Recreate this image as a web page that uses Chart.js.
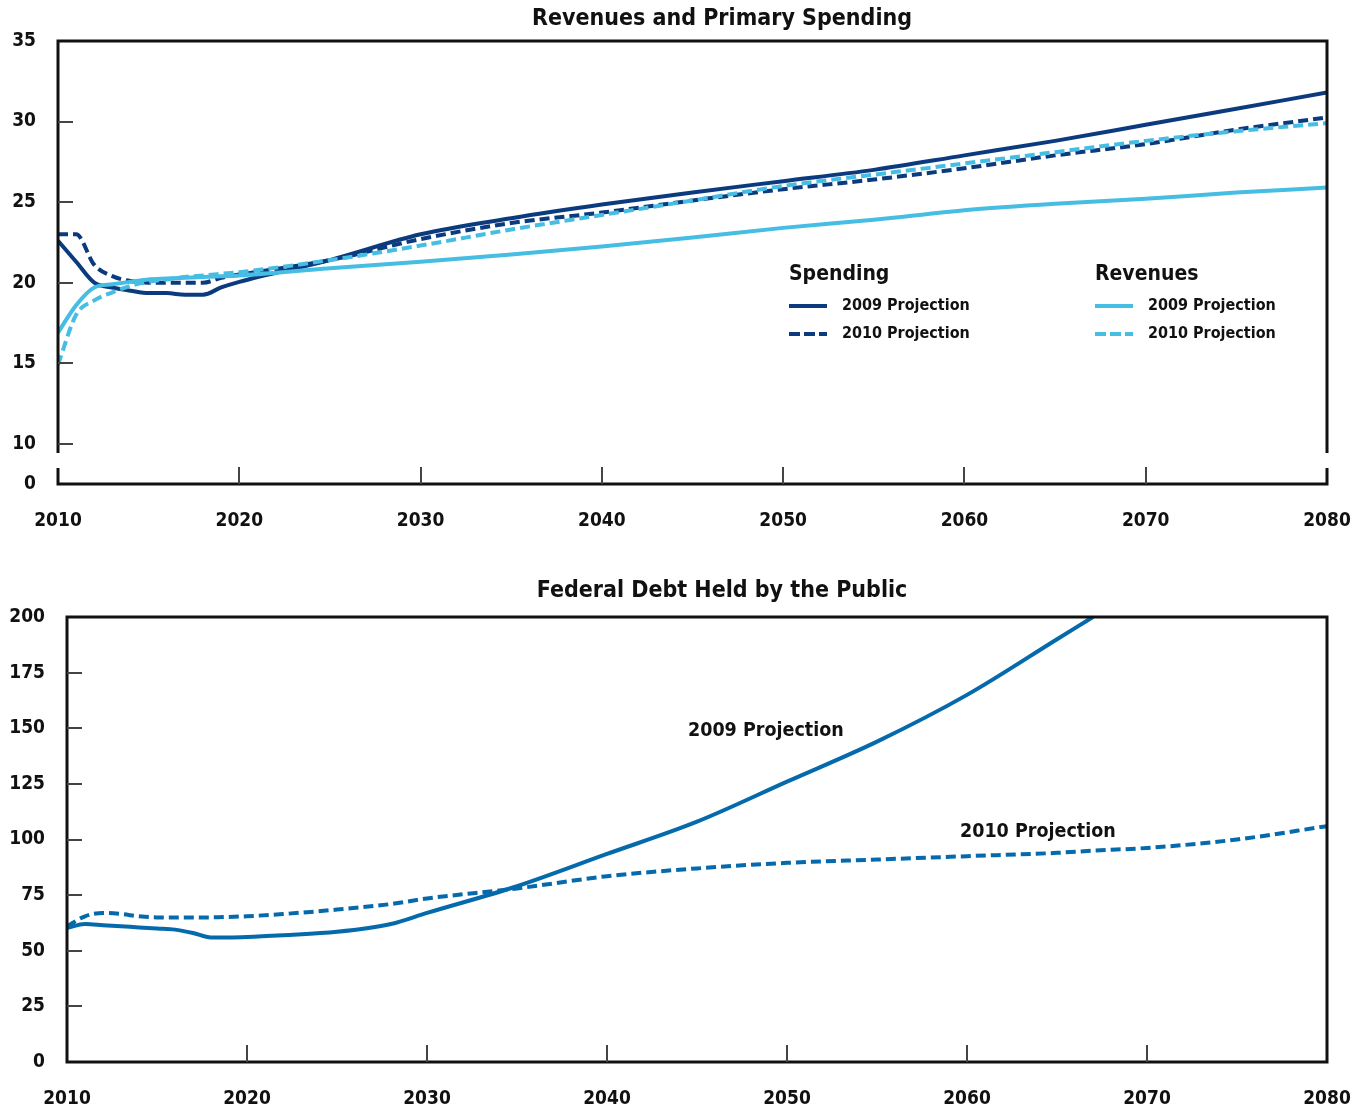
<!DOCTYPE html>
<html>
<head>
<meta charset="utf-8">
<script src="https://cdn.jsdelivr.net/npm/chart.js@4/dist/chart.umd.min.js"></script>
<style>
  body { margin: 0; background: #fff; }
  .box { position: relative; width: 1366px; }
</style>
</head>
<body>
<div class="box" style="height:550px"><canvas id="topChart" width="1366" height="550"></canvas></div>
<div class="box" style="height:560px"><canvas id="debtChart" width="1366" height="560"></canvas></div>
<script>
// Revenues and primary spending, percent of GDP
const years = [2010, 2011, 2012, 2013, 2014, 2015, 2016, 2017, 2018, 2019, 2020,
               2025, 2030, 2035, 2040, 2045, 2050, 2055, 2060, 2065, 2070, 2075, 2080];
const spending2009 = [22.6, 21.3, 20.0, 19.7, 19.5, 19.35, 19.35, 19.25, 19.25, 19.7, 20.05,
                      21.4, 23.0, 24.0, 24.85, 25.6, 26.3, 27.0, 27.9, 28.8, 29.8, 30.8, 31.8];
const spending2010 = [23.0, 23.0, 21.1, 20.4, 20.1, 20.0, 20.0, 20.0, 20.0, 20.3, 20.5,
                      21.4, 22.7, 23.7, 24.35, 25.1, 25.8, 26.4, 27.1, 27.9, 28.6, 29.5, 30.25];
const revenues2009 = [16.9, 18.6, 19.7, 19.9, 20.05, 20.2, 20.25, 20.3, 20.35, 20.4, 20.45,
                      20.9, 21.3, 21.75, 22.25, 22.8, 23.4, 23.9, 24.5, 24.9, 25.2, 25.6, 25.9];
const revenues2010 = [14.9, 18.0, 18.9, 19.4, 19.8, 20.05, 20.2, 20.35, 20.45, 20.55, 20.65,
                      21.4, 22.3, 23.3, 24.2, 25.1, 26.0, 26.7, 27.4, 28.1, 28.8, 29.4, 29.9];
const topYTicks = [7.5, 10, 15, 20, 25, 30, 35]; // 7.5 is the broken-axis spot labelled 0

// Federal debt held by the public, percent of GDP
const debtYears = [2010, 2011, 2012, 2013, 2014, 2015, 2016, 2017, 2018, 2019, 2020, 2022, 2025,
                   2028, 2030, 2035, 2040, 2045, 2050, 2055, 2060, 2065, 2067, 2070, 2075, 2080];
const debt2009 = [60.2, 62, 61.5, 61, 60.5, 60, 59.5, 58, 56, 56, 56.2, 57, 58.5,
                  62, 67, 79, 93.5, 108, 126, 144, 165, 190, 200, null, null, null];
const debt2010 = [61, 65.5, 67, 66.5, 65.5, 65, 65, 65, 65, 65.2, 65.5, 66.5, 68.5,
                  71, 73.5, 78, 83.5, 87, 89.5, 91, 92.5, 94, 95, 96.2, 100, 106];
const debtYTicks = [0, 25, 50, 75, 100, 125, 150, 175, 200];
const xTicks = [2010, 2020, 2030, 2040, 2050, 2060, 2070, 2080];

const darkBlue = '#0b3b7e';
const lightBlue = '#46bde3';
const debtBlue = '#046aab';
const FONT = "'DejaVu Sans Condensed', 'Liberation Sans Narrow', sans-serif";

Chart.defaults.font.family = FONT;
Chart.defaults.font.weight = 'bold';
Chart.defaults.font.size = 19;
Chart.defaults.color = '#111';

function pts(xs, ys) {
    return xs.map((x, i) => ({ x: x, y: ys[i] }));
}

function lineSet(label, xs, ys, color, dashed) {
    return {
        label: label,
        data: pts(xs, ys),
        borderColor: color,
        backgroundColor: color,
        borderWidth: 4,
        borderDash: dashed ? [10, 5] : [],
        pointRadius: 0,
        cubicInterpolationMode: 'monotone',
        fill: false
    };
}

// draw the frame with inward tick marks (and the axis break on the top chart)
function framePlugin(opts) {
    return {
        id: 'frame',
        afterDraw(chart) {
            const ctx = chart.ctx;
            const a = chart.chartArea;
            const xs = chart.scales.x, ys = chart.scales.y;
            ctx.save();
            ctx.strokeStyle = '#111';
            ctx.lineWidth = 3;
            ctx.lineCap = 'butt';
            ctx.beginPath();
            ctx.moveTo(a.left, a.bottom); ctx.lineTo(a.right, a.bottom);
            ctx.moveTo(a.left - 1.5, a.top); ctx.lineTo(a.right + 1.5, a.top);
            if (opts.breakAt) {
                const b1 = opts.breakAt[0], b2 = opts.breakAt[1];
                [a.left, a.right].forEach(x => {
                    ctx.moveTo(x, a.top); ctx.lineTo(x, b1);
                    ctx.moveTo(x, b2); ctx.lineTo(x, a.bottom + 1.5);
                });
            } else {
                ctx.moveTo(a.left, a.top); ctx.lineTo(a.left, a.bottom + 1.5);
                ctx.moveTo(a.right, a.top); ctx.lineTo(a.right, a.bottom + 1.5);
            }
            ctx.stroke();

            ctx.strokeStyle = '#444';
            ctx.lineWidth = 2;
            ctx.beginPath();
            opts.yTicks.forEach(v => {
                const y = Math.round(ys.getPixelForValue(v));
                ctx.moveTo(a.left, y); ctx.lineTo(a.left + 15, y);
            });
            xTicks.slice(1, -1).forEach(v => {
                const x = Math.round(xs.getPixelForValue(v));
                ctx.moveTo(x, a.bottom); ctx.lineTo(x, a.bottom - 17);
            });
            ctx.stroke();

            // title
            ctx.fillStyle = '#111';
            ctx.font = 'bold 23px ' + FONT;
            ctx.textAlign = 'center';
            ctx.textBaseline = 'middle';
            ctx.fillText(opts.title, 722, opts.titleY);

            if (opts.extra) opts.extra(ctx);
            ctx.restore();
        }
    };
}

function drawTopLegend(ctx) {
    const groups = [
        { x: 789, head: 'Spending', color: darkBlue },
        { x: 1095, head: 'Revenues', color: lightBlue }
    ];
    groups.forEach(g => {
        ctx.textAlign = 'left';
        ctx.textBaseline = 'middle';
        ctx.fillStyle = '#111';
        ctx.font = 'bold 21px ' + FONT;
        ctx.fillText(g.head, g.x, 275);
        ctx.font = 'bold 16px ' + FONT;
        [['2009 Projection', []], ['2010 Projection', [11, 4]]].forEach((it, i) => {
            const y = 306 + i * 28;
            ctx.strokeStyle = g.color;
            ctx.lineWidth = 4;
            ctx.lineCap = 'butt';
            ctx.setLineDash(it[1]);
            ctx.beginPath();
            ctx.moveTo(g.x, y); ctx.lineTo(g.x + 38, y);
            ctx.stroke();
            ctx.setLineDash([]);
            ctx.fillText(it[0], g.x + 53, y);
        });
    });
}

function drawDebtLabels(ctx) {
    ctx.fillStyle = '#111';
    ctx.font = 'bold 19.5px ' + FONT;
    ctx.textAlign = 'left';
    ctx.textBaseline = 'middle';
    ctx.fillText('2009 Projection', 688, 181);
    ctx.fillText('2010 Projection', 960, 282);
}

function xScale(height) {
    return {
        type: 'linear',
        min: 2010,
        max: 2080,
        afterBuildTicks: s => { s.ticks = xTicks.map(v => ({ value: v })); },
        afterFit: s => { s.height = height; s.paddingLeft = 0; s.paddingRight = 0; },
        grid: { display: false, drawTicks: false },
        border: { display: false },
        ticks: { padding: 26, maxRotation: 0, autoSkip: false, callback: v => String(v) }
    };
}

// Top: revenues and primary spending
new Chart(document.getElementById('topChart'), {
    type: 'line',
    data: {
        datasets: [
            lineSet('Revenues 2009 Projection', years, revenues2009, lightBlue, false),
            lineSet('Revenues 2010 Projection', years, revenues2010, lightBlue, true),
            lineSet('Spending 2010 Projection', years, spending2010, darkBlue, true),
            lineSet('Spending 2009 Projection', years, spending2009, darkBlue, false)
        ]
    },
    options: {
        responsive: false,
        animation: false,
        layout: { padding: { top: 41, right: 39, left: 0, bottom: 0 } },
        plugins: { legend: { display: false }, tooltip: { enabled: false } },
        scales: {
            x: xScale(66),
            y: {
                min: 7.5,
                max: 35,
                afterBuildTicks: s => { s.ticks = topYTicks.map(v => ({ value: v })); },
                afterFit: s => { s.width = 58; },
                grid: { display: false, drawTicks: false },
                border: { display: false },
                ticks: { padding: 22, callback: v => (v === 7.5 ? '0' : String(v)) }
            }
        }
    },
    plugins: [framePlugin({
        title: 'Revenues and Primary Spending',
        titleY: 19,
        yTicks: [10, 15, 20, 25, 30],
        breakAt: [453, 468],
        extra: drawTopLegend
    })]
});

// Bottom: federal debt held by the public
new Chart(document.getElementById('debtChart'), {
    type: 'line',
    data: {
        datasets: [
            lineSet('2010 Projection', debtYears, debt2010, debtBlue, true),
            lineSet('2009 Projection', debtYears, debt2009, debtBlue, false)
        ]
    },
    options: {
        responsive: false,
        animation: false,
        spanGaps: false,
        layout: { padding: { top: 67, right: 39, left: 0, bottom: 0 } },
        plugins: { legend: { display: false }, tooltip: { enabled: false } },
        scales: {
            x: xScale(48),
            y: {
                min: 0,
                max: 200,
                afterBuildTicks: s => { s.ticks = debtYTicks.map(v => ({ value: v })); },
                afterFit: s => { s.width = 67; },
                grid: { display: false, drawTicks: false },
                border: { display: false },
                ticks: { padding: 22, callback: v => String(v) }
            }
        }
    },
    plugins: [framePlugin({
        title: 'Federal Debt Held by the Public',
        titleY: 41,
        yTicks: [25, 50, 75, 100, 125, 150, 175],
        extra: drawDebtLabels
    })]
});
</script>
</body>
</html>
